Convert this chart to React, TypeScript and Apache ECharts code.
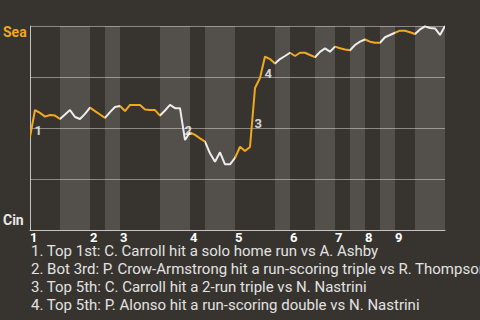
import React, { useEffect, useRef } from "react";
import * as echarts from "echarts";

// Win probability for Seattle (0 = Cin wins, 1 = Sea wins), one value per plate appearance
const seaWinProb: number[] = [
  0.456, 0.588, 0.574, 0.556, 0.564, 0.561, 0.544, 0.566, 0.588, 0.554,
  0.544, 0.569, 0.6, 0.583, 0.566, 0.55, 0.578, 0.603, 0.608, 0.583,
  0.613, 0.613, 0.613, 0.591, 0.588, 0.588, 0.561, 0.586, 0.613, 0.597,
  0.597, 0.441, 0.479, 0.466, 0.449, 0.433, 0.376, 0.335, 0.381, 0.322,
  0.322, 0.353, 0.408, 0.387, 0.407, 0.696, 0.745, 0.85, 0.838, 0.816,
  0.838, 0.853, 0.869, 0.853, 0.869, 0.869, 0.858, 0.847, 0.873, 0.89,
  0.874, 0.899, 0.891, 0.885, 0.881, 0.907, 0.923, 0.934, 0.923, 0.918,
  0.918, 0.945, 0.956, 0.967, 0.977, 0.977, 0.969, 0.961, 0.983, 0.998,
  0.99, 0.988, 0.956, 1.0,
];

// Plate-appearance index where each half inning starts (last entry = end of game)
const halfInningStarts: number[] = [0, 6, 12, 15, 18, 26, 32, 35, 41, 49, 52, 57, 61, 64, 67, 70, 73, 77, 83];
const inningLabels: string[] = ["1", "2", "3", "4", "5", "6", "7", "8", "9"];

// Key events: plate appearance index where the event ended, and its description
const eventIndex: number[] = [1, 31, 45, 47];
const eventText: string[] = [
  "1. Top 1st: C. Carroll hit a solo home run vs A. Ashby",
  "2. Bot 3rd: P. Crow-Armstrong hit a run-scoring triple vs R. Thompson",
  "3. Top 5th: C. Carroll hit a 2-run triple vs N. Nastrini",
  "4. Top 5th: P. Alonso hit a run-scoring double vs N. Nastrini",
];

const teamTop = "Sea";
const teamBottom = "Cin";

const ORANGE = "#f2a81d";
const WHITE = "#ececec";
const BG = "#37342f";
const FONT = "Roboto";

export default function App() {
  const ref = useRef<HTMLDivElement>(null);

  useEffect(() => {
    if (!ref.current) return;
    const chart = echarts.init(ref.current, undefined, { renderer: "svg" });

    const lineData = seaWinProb.map((v, i) => [i, v]);
    const pieces = [] as any[];
    const bands = [] as any[];
    for (let k = 0; k < halfInningStarts.length - 1; k++) {
      const a = halfInningStarts[k];
      const b = halfInningStarts[k + 1];
      pieces.push(k === 0 ? { gte: a, lte: b, color: ORANGE } : { gt: a, lte: b, color: k % 2 === 0 ? ORANGE : WHITE });
      if (k % 2 === 1) bands.push([{ xAxis: a }, { xAxis: b }]);
    }
    const inningStartValues = halfInningStarts.filter((_, k) => k % 2 === 0 && k < halfInningStarts.length - 1);
    const labelMap: Record<number, string> = {};
    inningStartValues.forEach((v, k) => (labelMap[v] = inningLabels[k]));

    const eventPoints = eventIndex.map((e, k) => ({
      value: [e - 0.5, (seaWinProb[e - 1] + seaWinProb[e]) / 2],
      name: String(k + 1),
    }));

    chart.setOption({
      animation: false,
      backgroundColor: BG,
      textStyle: { fontFamily: FONT },
      grid: { left: 30, right: 35, top: 26, bottom: 90 },
      xAxis: {
        type: "value",
        min: 0,
        max: halfInningStarts[halfInningStarts.length - 1],
        axisLine: { show: true, lineStyle: { color: "#c4c4c4", width: 1 } },
        axisTick: { show: false },
        splitLine: { show: false },
        axisLabel: {
          customValues: inningStartValues,
          showMinLabel: true,
          formatter: (v: number) => labelMap[v] ?? "",
          color: "#ffffff",
          fontWeight: "bold",
          fontSize: 13,
          fontFamily: FONT,
          align: "left",
          margin: 1,
        },
      },
      yAxis: {
        type: "value",
        min: 0,
        max: 1,
        interval: 0.25,
        axisLine: { show: true, lineStyle: { color: "#c4c4c4", width: 1 } },
        axisTick: { show: false },
        axisLabel: { show: false },
        splitLine: { show: true, lineStyle: { color: "#8a8885", width: 1 } },
      },
      visualMap: {
        type: "piecewise",
        show: false,
        dimension: 0,
        seriesIndex: 0,
        pieces,
      },
      series: [
        {
          type: "line",
          data: lineData,
          showSymbol: false,
          lineStyle: { width: 2 },
          z: 3,
          markArea: {
            silent: true,
            itemStyle: { color: "rgba(255,255,255,0.14)" },
            data: bands,
          },
        },
        {
          type: "scatter",
          data: eventPoints,
          symbolSize: 0,
          z: 5,
          label: {
            show: true,
            position: [2, 0],
            formatter: (p: any) => p.name,
            color: "#ffffff",
            fontWeight: "bold",
            fontSize: 13,
            fontFamily: FONT,
            align: "left",
            verticalAlign: "top",
          },
        },
      ],
      graphic: [
        {
          type: "text",
          left: 3,
          top: 25,
          style: { text: teamTop, fill: ORANGE, font: `bold 14px ${FONT}` },
        },
        {
          type: "text",
          left: 3,
          top: 213,
          style: { text: teamBottom, fill: "#e8e8e8", font: `bold 14px ${FONT}` },
        },
        ...eventText.map((t, k) => ({
          type: "text",
          left: 31,
          top: 243 + k * 18,
          style: { text: t, fill: "#e2e2e2", font: `15px ${FONT}` },
        })),
      ],
    });

    return () => chart.dispose();
  }, []);

  return (
    <div
      ref={ref}
      style={{ width: 480, height: 320, position: "absolute", left: 0, top: 0 }}
    />
  );
}
